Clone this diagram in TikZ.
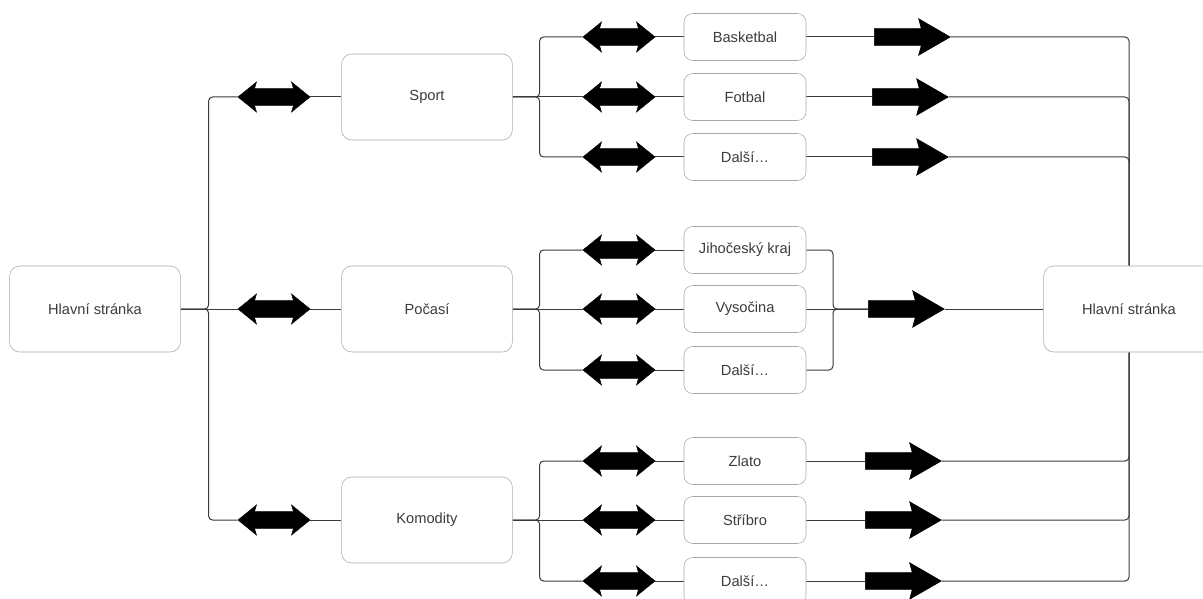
\documentclass[tikz,border=0pt]{standalone}
\usepackage{fontspec}
\setmainfont{Liberation Sans}
\usetikzlibrary{shapes.arrows,backgrounds}
\definecolor{boxline}{HTML}{A8A8A8}
\definecolor{wirecol}{HTML}{3A3A3A}
\definecolor{txt}{HTML}{3C3C3C}

\begin{document}
\begin{tikzpicture}[x = 0.75pt, y = -0.75pt,
	page/.style = {draw = boxline, fill = white, rounded corners = 7.5pt, text = txt,
		font = \fontsize{11}{13}\selectfont, minimum width = 128pt, minimum height = 64.5pt},
	leaf/.style = {page, minimum width = 91.5pt, minimum height = 35.25pt, rounded corners = 6.5pt},
	both/.style = {double arrow, draw = black, fill = black, inner xsep = 0pt, inner ysep = 6pt,
		minimum height = 54pt, double arrow head extend = 5pt, double arrow tip angle = 78,
		double arrow head indent = 1.5pt},
	fwd/.style = {single arrow, draw = black, fill = black, inner xsep = 0pt, inner ysep = 6pt,
		minimum height = 57pt, single arrow head extend = 7.5pt, single arrow tip angle = 60,
		single arrow head indent = 2pt, anchor = tail},
	wire/.style = {draw = wirecol, line width = 0.75pt, rounded corners = 3pt}]
	\useasboundingbox (0,0) rectangle (1203,599);
	% pages
	\node[page] (hlavni) at (95,309) {Hlavní stránka};
	\node[page] (sport) at (427,97) {Sport};
	\node[page] (pocasi) at (427,309) {Počasí};
	\node[page] (komodity) at (427,520) {Komodity};
	\node[page] (hlavni2) at (1129,309) {Hlavní stránka};
	\node[leaf] (basketbal) at (745,37) {Basketbal};
	\node[leaf] (fotbal) at (745,97) {Fotbal};
	\node[leaf] (dalsiS) at (745,157) {Další…};
	\node[leaf] (jiho) at (745,250) {Jihočeský kraj};
	\node[leaf] (vysocina) at (745,309) {Vysočina};
	\node[leaf] (dalsiP) at (745,370) {Další…};
	\node[leaf] (zlato) at (745,461) {Zlato};
	\node[leaf] (stribro) at (745,520) {Stříbro};
	\node[leaf] (dalsiK) at (745,581) {Další…};
	% arrows
	\node[both] (dSport) at (274,97) {};
	\node[both] (dPocasi) at (274,309) {};
	\node[both] (dKomodity) at (274,520) {};
	\node[both] (dBasketbal) at (619,37) {};
	\node[both] (dFotbal) at (619,97) {};
	\node[both] (dDalsiS) at (619,157) {};
	\node[both] (dJiho) at (619,250) {};
	\node[both] (dVysocina) at (619,309) {};
	\node[both] (dDalsiP) at (619,370) {};
	\node[both] (dZlato) at (619,461) {};
	\node[both] (dStribro) at (619,520) {};
	\node[both] (dDalsiK) at (619,581) {};
	\node[fwd] (fBasketbal) at (874,37) {};
	\node[fwd] (fFotbal) at (872,97) {};
	\node[fwd] (fDalsiS) at (872,157) {};
	\node[fwd] (fPocasi) at (868,309) {};
	\node[fwd] (fZlato) at (865,461) {};
	\node[fwd] (fStribro) at (865,520) {};
	\node[fwd] (fDalsiK) at (865,581) {};
	\coordinate (pjoin) at (833,309);
	% wires
	\begin{scope}[on background layer]
		\draw[wire] (hlavni.east) -- ++(28,0) |- (dSport.west);
		\draw[wire] (hlavni.east) -- (dPocasi.west);
		\draw[wire] (hlavni.east) -- ++(28,0) |- (dKomodity.west);
		\draw[wire] (dSport.east) -- (sport.west)
			(dPocasi.east) -- (pocasi.west)
			(dKomodity.east) -- (komodity.west);
		\draw[wire] (sport.east) -- ++(27,0) |- (dBasketbal.west);
		\draw[wire] (sport.east) -- (dFotbal.west);
		\draw[wire] (sport.east) -- ++(27,0) |- (dDalsiS.west);
		\draw[wire] (pocasi.east) -- ++(27,0) |- (dJiho.west);
		\draw[wire] (pocasi.east) -- (dVysocina.west);
		\draw[wire] (pocasi.east) -- ++(27,0) |- (dDalsiP.west);
		\draw[wire] (komodity.east) -- ++(27,0) |- (dZlato.west);
		\draw[wire] (komodity.east) -- (dStribro.west);
		\draw[wire] (komodity.east) -- ++(27,0) |- (dDalsiK.west);
		\draw[wire] (dBasketbal.east) -- (basketbal.west)
			(dFotbal.east) -- (fotbal.west)
			(dDalsiS.east) -- (dalsiS.west)
			(dJiho.east) -- (jiho.west)
			(dVysocina.east) -- (vysocina.west)
			(dDalsiP.east) -- (dalsiP.west)
			(dZlato.east) -- (zlato.west)
			(dStribro.east) -- (stribro.west)
			(dDalsiK.east) -- (dalsiK.west);
		\draw[wire] (basketbal.east) -- (fBasketbal.tail)
			(fotbal.east) -- (fFotbal.tail)
			(dalsiS.east) -- (fDalsiS.tail)
			(zlato.east) -- (fZlato.tail)
			(stribro.east) -- (fStribro.tail)
			(dalsiK.east) -- (fDalsiK.tail);
		\draw[wire] (fBasketbal.tip) -| (hlavni2.north);
		\draw[wire] (fFotbal.tip) -| (hlavni2.north);
		\draw[wire] (fDalsiS.tip) -| (hlavni2.north);
		\draw[wire] (fZlato.tip) -| (hlavni2.south);
		\draw[wire] (fStribro.tip) -| (hlavni2.south);
		\draw[wire] (fDalsiK.tip) -| (hlavni2.south);
		\draw[wire] (jiho.east) -| (pjoin) -- (fPocasi.tail);
		\draw[wire] (vysocina.east) -- (fPocasi.tail);
		\draw[wire] (dalsiP.east) -| (pjoin) -- (fPocasi.tail);
		\draw[wire] (fPocasi.tip) -- (hlavni2.west);
	\end{scope}
\end{tikzpicture}
\end{document}
